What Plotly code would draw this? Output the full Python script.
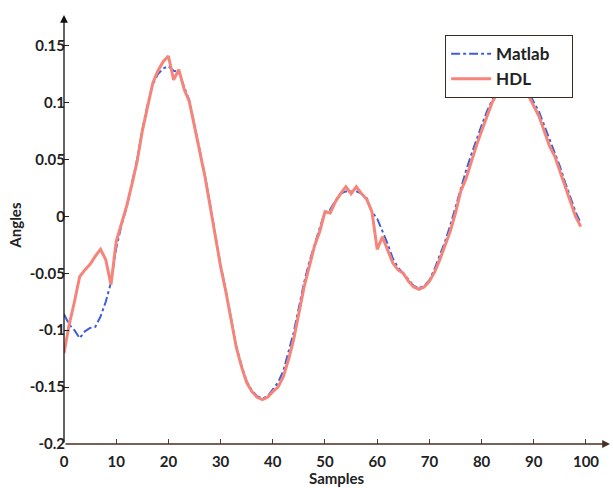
import plotly.graph_objects as go

# samples 0..99
samples = list(range(100))

hdl = [-0.120, -0.095, -0.075, -0.053, -0.047, -0.042, -0.035, -0.029, -0.038, -0.060,
       -0.022, -0.006, 0.009, 0.028, 0.048, 0.075, 0.097, 0.117, 0.128, 0.136,
       0.141, 0.120, 0.129, 0.112, 0.101, 0.079, 0.057, 0.035, 0.009, -0.018,
       -0.044, -0.066, -0.091, -0.115, -0.132, -0.146, -0.154, -0.159, -0.161, -0.159,
       -0.154, -0.150, -0.141, -0.126, -0.108, -0.084, -0.062, -0.044, -0.026, -0.013,
       0.004, 0.003, 0.013, 0.020, 0.026, 0.020, 0.026, 0.020, 0.015, 0.004,
       -0.029, -0.018, -0.029, -0.041, -0.047, -0.050, -0.057, -0.062, -0.064, -0.062,
       -0.057, -0.049, -0.038, -0.026, -0.013, 0.003, 0.022, 0.033, 0.048, 0.062,
       0.075, 0.088, 0.100, 0.108, 0.114, 0.118, 0.120, 0.118, 0.113, 0.106,
       0.097, 0.088, 0.075, 0.062, 0.053, 0.040, 0.026, 0.013, 0.000, -0.009]

matlab = [-0.086, -0.095, -0.100, -0.107, -0.101, -0.098, -0.097, -0.088, -0.075, -0.058,
          -0.028, -0.008, 0.008, 0.028, 0.050, 0.076, 0.098, 0.116, 0.125, 0.130,
          0.132, 0.128, 0.127, 0.114, 0.102, 0.080, 0.058, 0.036, 0.010, -0.017,
          -0.043, -0.065, -0.090, -0.114, -0.131, -0.145, -0.153, -0.158, -0.160, -0.158,
          -0.152, -0.146, -0.136, -0.120, -0.102, -0.080, -0.058, -0.040, -0.024, -0.010,
          0.004, 0.006, 0.014, 0.020, 0.022, 0.022, 0.022, 0.020, 0.016, 0.004,
          -0.002, -0.013, -0.024, -0.037, -0.045, -0.050, -0.056, -0.061, -0.063, -0.061,
          -0.056, -0.046, -0.034, -0.022, -0.008, 0.008, 0.026, 0.040, 0.054, 0.068,
          0.080, 0.092, 0.102, 0.110, 0.116, 0.119, 0.120, 0.119, 0.115, 0.109,
          0.101, 0.092, 0.080, 0.068, 0.057, 0.044, 0.030, 0.016, 0.004, -0.006]

x_ticks = [0, 10, 20, 30, 40, 50, 60, 70, 80, 90, 100]
y_ticks = [-0.2, -0.15, -0.1, -0.05, 0, 0.05, 0.1, 0.15]
y_labels = ["-0.2", "-0.15", "-0.1", "-0.05", "0", "0.05", "0.1", "0.15"]

X_MAX = 104.6
Y_MIN, Y_MAX = -0.2, 0.177

FONT = "Lato, 'Open Sans', sans-serif"
font = dict(family=FONT, size=15, color="#222222")

fig = go.Figure()
fig.add_trace(go.Scatter(x=samples, y=matlab, mode="lines", name="<b>Matlab</b>    ",
                         line=dict(color="#3f5fd6", width=2, dash="dashdot")))
fig.add_trace(go.Scatter(x=samples, y=hdl, mode="lines", name="<b>HDL</b>",
                         line=dict(color="#f5857a", width=3)))

fig.update_layout(
    width=613, height=488,
    margin=dict(l=64, r=3, t=15, b=44),
    paper_bgcolor="white", plot_bgcolor="white",
    font=font,
    showlegend=True,
    legend=dict(x=0.698, y=0.953, xanchor="left", yanchor="top",
                bgcolor="white", bordercolor="#3a2a20", borderwidth=1,
                font=dict(family=FONT, size=17, color="#222222"),
                itemwidth=40),
    xaxis=dict(range=[0, X_MAX], tickvals=x_ticks,
               ticktext=["<b>%d</b>" % t for t in x_ticks],
               ticks="inside", ticklen=5, tickcolor="#5a3a2a",
               ticklabelstandoff=7, automargin=False,
               showgrid=False, zeroline=False, showline=False),
    yaxis=dict(range=[Y_MIN, Y_MAX], tickvals=y_ticks,
               ticktext=["<b>%s</b>" % t for t in y_labels],
               ticks="inside", ticklen=5, tickcolor="#222222",
               ticklabelstandoff=-2, automargin=False,
               showgrid=False, zeroline=False, showline=False),
)

# axis lines with arrow heads
fig.add_annotation(x=X_MAX, y=Y_MIN, ax=0, ay=Y_MIN, xref="x", yref="y",
                   axref="x", ayref="y", showarrow=True, arrowhead=2,
                   arrowsize=1.2, arrowwidth=1.3, arrowcolor="#4a3020", text="")
fig.add_annotation(x=0, y=Y_MAX, ax=0, ay=Y_MIN, xref="x", yref="y",
                   axref="x", ayref="y", showarrow=True, arrowhead=2,
                   arrowsize=1.2, arrowwidth=1.3, arrowcolor="#111111", text="")

# axis titles
fig.add_annotation(x=0.5, y=0, xref="paper", yref="paper", yshift=-34,
                   text="<b>Samples</b>", showarrow=False, xanchor="center",
                   yanchor="middle", font=dict(size=15, color="#222222"))
fig.add_annotation(x=0, y=0.509, xref="paper", yref="paper", xshift=-49,
                   text="<b>Angles</b>", showarrow=False, textangle=-90,
                   xanchor="center", yanchor="middle",
                   font=dict(size=15, color="#222222"))

# drop the default body margin so the figure sits at the page corner
fig.write_html("out.html", config={"displayModeBar": False},
               post_script="document.body.style.margin='0';")
